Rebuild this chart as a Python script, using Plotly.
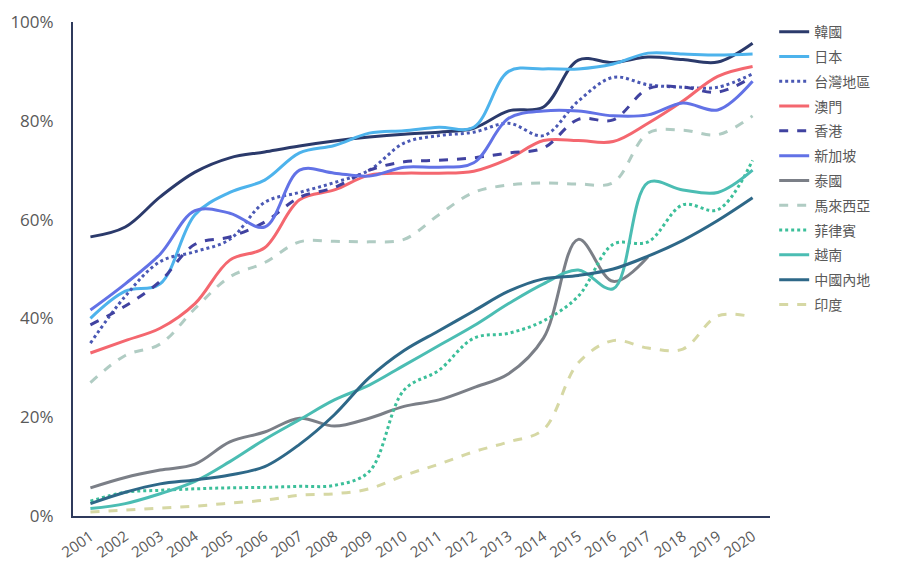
import plotly.graph_objects as go

years = [str(y) for y in range(2001, 2021)]

korea = [56.5, 58.5, 64.6, 69.6, 72.5, 73.7, 74.9, 75.9, 76.7, 77.3, 77.7, 78.5, 82.0, 82.8, 92.3, 91.8, 92.9, 92.4, 91.9, 95.7]
japan = [40.0, 45.5, 47.0, 61.0, 65.5, 68.0, 73.5, 75.0, 77.5, 78.0, 78.7, 78.7, 90.0, 90.5, 90.5, 91.5, 93.7, 93.5, 93.3, 93.5]
taiwan = [35.0, 44.5, 51.5, 53.5, 56.0, 63.5, 65.5, 67.5, 70.0, 75.5, 77.0, 77.7, 79.5, 77.0, 84.0, 88.8, 87.3, 86.8, 86.8, 89.5]
macau = [33.0, 35.5, 38.0, 43.0, 51.8, 54.3, 64.0, 66.0, 69.0, 69.4, 69.4, 69.8, 72.3, 76.0, 76.0, 75.8, 79.5, 84.0, 89.0, 91.0]
hongkong = [38.7, 42.5, 47.5, 55.0, 56.5, 59.5, 64.5, 66.5, 70.0, 71.7, 72.0, 72.5, 73.5, 74.5, 80.3, 80.2, 86.5, 86.8, 85.8, 88.9]
singapore = [41.7, 47.0, 53.0, 61.8, 61.3, 58.5, 70.0, 69.4, 68.8, 70.6, 70.6, 71.5, 80.5, 82.0, 82.0, 81.0, 81.2, 83.6, 82.2, 88.0]
thailand = [5.7, 7.8, 9.3, 10.5, 15.0, 17.0, 19.8, 18.2, 19.8, 22.2, 23.5, 26.0, 28.8, 36.0, 56.0, 47.5, 52.5, None, None, None]
malaysia = [27.0, 32.5, 34.8, 42.0, 48.4, 51.3, 55.5, 55.6, 55.5, 56.0, 61.0, 65.5, 67.0, 67.4, 67.2, 67.5, 77.5, 78.1, 77.2, 81.0]
philippines = [3.0, 4.8, 5.2, 5.5, 5.7, 5.8, 6.0, 6.2, 9.0, 25.5, 29.5, 36.0, 37.0, 39.5, 44.5, 55.0, 55.5, 63.0, 62.0, 72.0]
vietnam = [1.5, 2.5, 4.5, 7.0, 11.0, 15.5, 19.5, 23.5, 26.5, 30.5, 34.5, 38.5, 43.0, 47.0, 49.8, 46.0, 67.5, 66.0, 65.5, 70.0]
china = [2.5, 4.8, 6.5, 7.3, 8.3, 10.0, 14.5, 20.5, 28.0, 33.5, 37.5, 41.5, 45.5, 48.0, 48.7, 50.0, 52.6, 55.8, 59.8, 64.4]
india = [0.8, 1.2, 1.6, 2.0, 2.6, 3.2, 4.2, 4.5, 5.5, 8.2, 10.5, 13.0, 15.0, 17.5, 31.0, 35.5, 34.0, 33.8, 40.5, 40.3]

series = [
    ("韓國", korea, "#2b3a6b", "solid"),
    ("日本", japan, "#4db3ec", "solid"),
    ("台灣地區", taiwan, "#4a58b4", "dot"),
    ("澳門", macau, "#f4676f", "solid"),
    ("香港", hongkong, "#4042a0", "dash"),
    ("新加坡", singapore, "#6272e6", "solid"),
    ("泰國", thailand, "#7b7f87", "solid"),
    ("馬來西亞", malaysia, "#b0ccc3", "dash"),
    ("菲律賓", philippines, "#3cbf9a", "dot"),
    ("越南", vietnam, "#4bbdb3", "solid"),
    ("中國內地", china, "#2e6888", "solid"),
    ("印度", india, "#d6d8a4", "dash"),
]

fig = go.Figure()
for name, vals, color, dash in series:
    fig.add_trace(go.Scatter(
        x=years,
        y=[None if v is None else v / 100 for v in vals],
        name=name,
        legendgroup=name,
        mode="lines",
        line=dict(color=color, width=3, dash=dash, shape="spline", smoothing=1),
    ))

font_family = "Open Sans, Noto Sans CJK TC, sans-serif"

fig.update_layout(
    width=907,
    height=569,
    margin=dict(l=73, r=137, t=22, b=53),
    paper_bgcolor="white",
    plot_bgcolor="white",
    font=dict(family=font_family, color="#595959"),
    showlegend=True,
    legend=dict(
        x=1.006, y=1.012, xanchor="left", yanchor="top",
        font=dict(size=14, color="#595959", family=font_family),
        tracegroupgap=3.6,
        maxheight=540,
        bgcolor="rgba(0,0,0,0)",
    ),
    xaxis=dict(
        type="category",
        range=[-0.5, 19.5],
        automargin=False,
        showline=True, linecolor="#2f3a5c", linewidth=2,
        showgrid=False, ticks="",
        tickangle=-35,
        ticklabelstandoff=4,
        tickfont=dict(size=15, color="#595959"),
    ),
    yaxis=dict(
        range=[0, 1],
        tickformat=".0%",
        dtick=0.2,
        automargin=False,
        showline=True, linecolor="#2f3a5c", linewidth=2,
        showgrid=False, zeroline=False, ticks="",
        ticklabelstandoff=14,
        tickfont=dict(size=17, color="#595959"),
    ),
)

fig.write_html("out.html")
